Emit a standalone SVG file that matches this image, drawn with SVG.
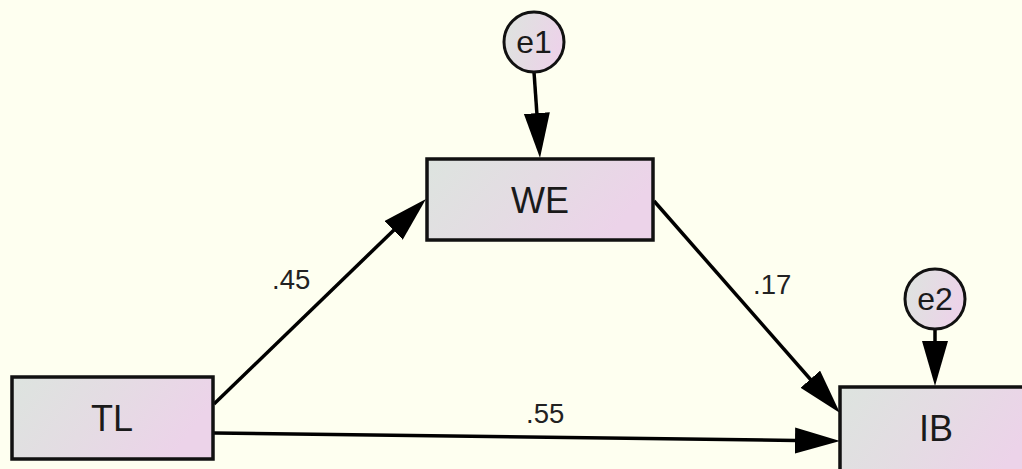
<svg xmlns="http://www.w3.org/2000/svg" width="1022" height="469" viewBox="0 0 1022 469">
<defs>
<linearGradient id="g" x1="0" y1="0" x2="1" y2="0.3">
<stop offset="0" stop-color="#dde4df"/>
<stop offset="0.5" stop-color="#e4dce3"/>
<stop offset="1" stop-color="#ecd3e9"/>
</linearGradient>
<marker id="ah" markerUnits="userSpaceOnUse" markerWidth="46" markerHeight="28" refX="35" refY="13" orient="auto">
<path d="M0,0 L45,13 L0,26 z" fill="#000"/>
</marker>
<style>
.box{fill:url(#g);stroke:#111;stroke-width:3.5}
.err{fill:url(#g);stroke:#111;stroke-width:3}
.lbl{font-family:"Liberation Sans",Arial,sans-serif;font-size:36px;fill:#1a1a1a;text-anchor:middle}
.elbl{font-family:"Liberation Sans",Arial,sans-serif;font-size:32px;fill:#1a1a1a;text-anchor:middle}
.num{font-family:"Liberation Sans",Arial,sans-serif;font-size:27.5px;fill:#222}
.con{stroke:#000;stroke-width:3.5;fill:none;marker-end:url(#ah)}
</style>
</defs>
<rect width="1022" height="469" fill="#fefff0"/>
<g id="connectors">
<line class="con" x1="534" y1="72" x2="539.3" y2="148"/>
<line class="con" x1="935" y1="330" x2="935" y2="376"/>
<line class="con" x1="214" y1="404" x2="418.8" y2="206"/>
<line class="con" x1="654" y1="201" x2="833.4" y2="405.5"/>
<line class="con" x1="214" y1="433" x2="830" y2="440.9"/>
<text class="num" x="272" y="289">.45</text>
<text class="num" x="753" y="294">.17</text>
<text class="num" x="526" y="423">.55</text>
</g>
<g id="WE">
<rect class="box" x="427" y="159" width="226" height="81"/>
<text class="lbl" x="540" y="213">WE</text>
</g>
<g id="TL">
<rect class="box" x="12" y="377" width="201" height="82"/>
<text class="lbl" x="112" y="431">TL</text>
</g>
<g id="IB">
<rect class="box" x="840" y="387" width="200" height="90"/>
<text class="lbl" x="936" y="441">IB</text>
</g>
<g id="e1">
<circle class="err" cx="534" cy="42" r="30"/>
<text class="elbl" x="534" y="53">e1</text>
</g>
<g id="e2">
<circle class="err" cx="935" cy="299" r="30"/>
<text class="elbl" x="935" y="310">e2</text>
</g>
</svg>
